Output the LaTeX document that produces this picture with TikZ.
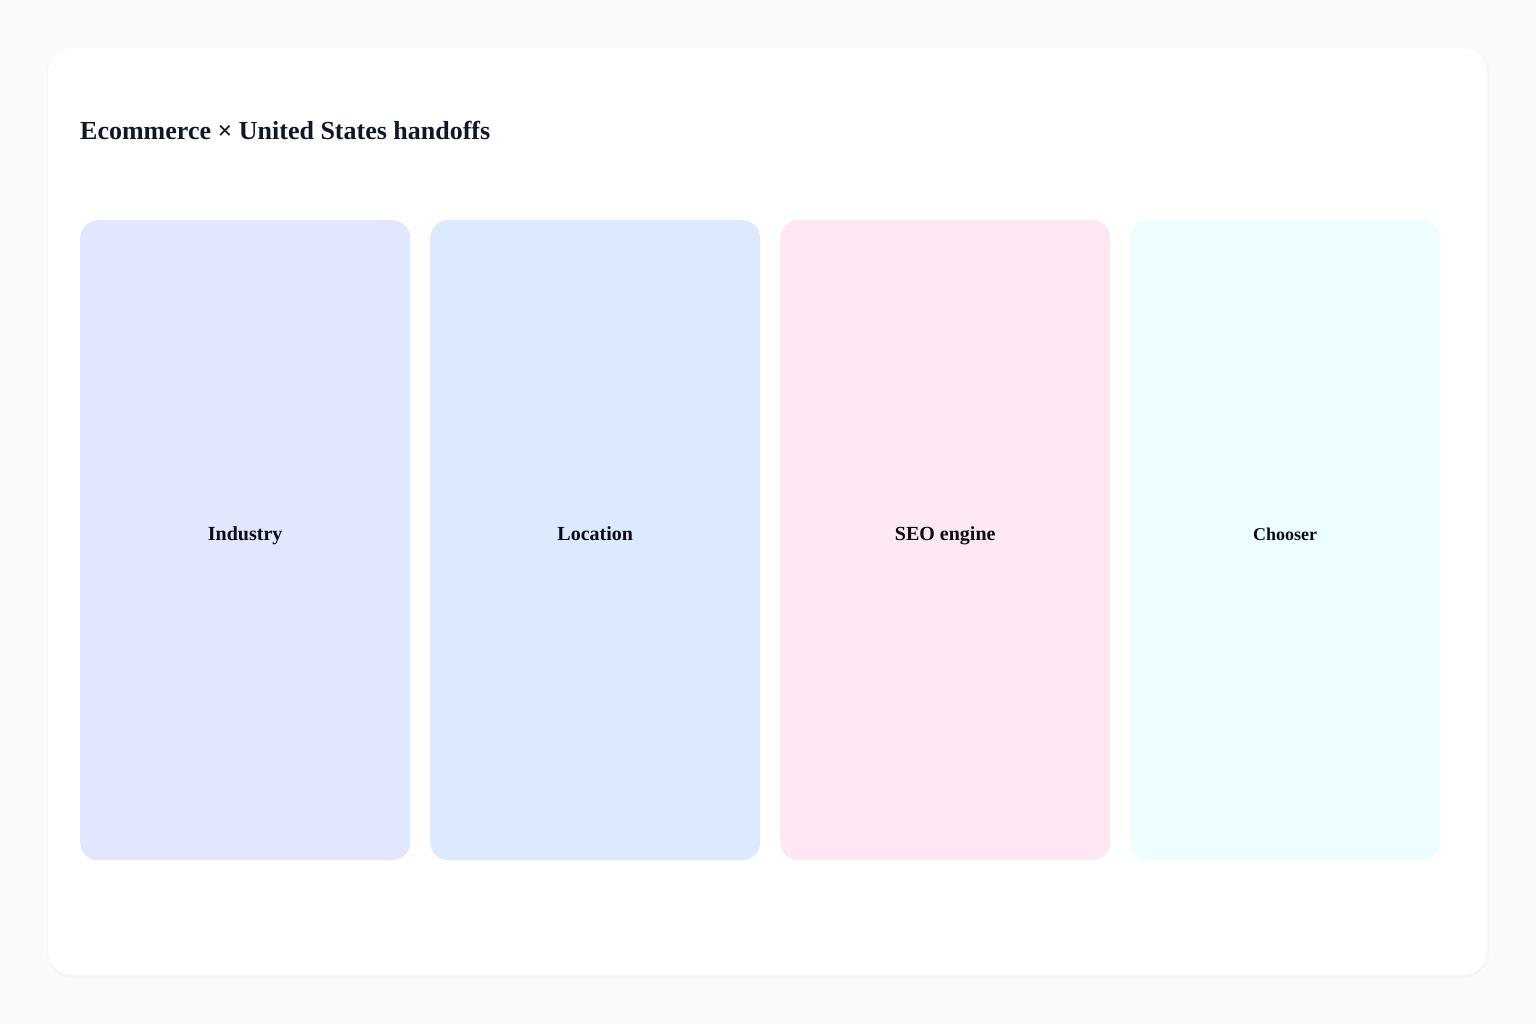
\documentclass[tikz,border=0pt]{standalone}
\usepackage{fontspec}
\setmainfont{Liberation Serif}
\definecolor{pagebg}{HTML}{F8FAFC}
\definecolor{cardshadow}{HTML}{F1F5F9}
\definecolor{titlecol}{HTML}{0F172A}
\definecolor{labelcol}{HTML}{0B0B14}
\definecolor{colA}{HTML}{E0E7FF}
\definecolor{colB}{HTML}{DBEAFE}
\definecolor{colC}{HTML}{FCE7F3}
\definecolor{colD}{HTML}{ECFEFF}
\tikzset{
  lane/.style={rounded corners=18pt, inner sep=0pt, minimum width=330pt, minimum height=640pt, anchor=north west},
  lanelabel/.style={font=\bfseries\fontsize{20}{24}\selectfont, text=labelcol, anchor=base, inner sep=0pt},
}
\begin{document}
\begin{tikzpicture}[x=1pt,y=-1pt]
\useasboundingbox (0,0) rectangle (1536,1024);
\fill[pagebg] (0,0) rectangle (1536,1024);
\fill[cardshadow, rounded corners=26pt] (47,48) rectangle (1489,978);
\fill[white, rounded corners=24pt] (48,48) rectangle (1487,975);
\node[anchor=base west, inner sep=0pt, font=\bfseries\fontsize{26}{30}\selectfont, text=titlecol] (title) at (80,140) {Ecommerce × United States handoffs};
\node[lane, fill=colA] (industry) at (80,220) {};
\node[lane, fill=colB] (location) at (430,220) {};
\node[lane, fill=colC] (seo) at (780,220) {};
\node[lane, fill=colD, minimum width=310pt] (chooser) at (1130,220) {};
\node[lanelabel] (industryL) at (industry.center |- 0,540) {Industry};
\node[lanelabel] (locationL) at (location.center |- 0,540) {Location};
\node[lanelabel] (seoL) at (seo.center |- 0,540) {SEO engine};
\node[lanelabel, font=\bfseries\fontsize{18}{22}\selectfont] (chooserL) at (chooser.center |- 0,540) {Chooser};
\end{tikzpicture}
\end{document}
